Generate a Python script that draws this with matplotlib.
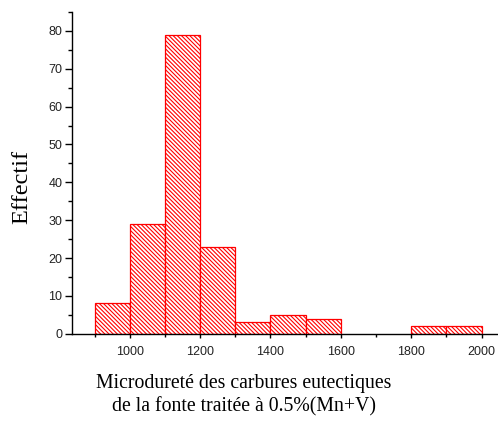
import matplotlib
matplotlib.use("Agg")
import matplotlib.pyplot as plt
from matplotlib.ticker import MultipleLocator

# Histogram of microhardness classes (left bin edges, bin width, counts)
bin_left = [900, 1000, 1100, 1200, 1300, 1400, 1500, 1800, 1900]
bin_width = 100
counts = [8, 29, 79, 23, 3, 5, 4, 2, 2]

x_ticks = [1000, 1200, 1400, 1600, 1800, 2000]
y_ticks = [0, 10, 20, 30, 40, 50, 60, 70, 80]

plt.rcParams['hatch.linewidth'] = 0.8
plt.rcParams['hatch.color'] = 'red'

fig = plt.figure(figsize=(4.98, 4.23), dpi=100)
ax = fig.add_axes([72 / 498, 1 - 333.7 / 423, (497 - 72) / 498, (333.7 - 12) / 423])

ax.bar(bin_left, counts, width=bin_width, align='edge', facecolor='white',
       edgecolor='red', linewidth=0.9, hatch='\\' * 8)

ax.set_xlim(836, 2044)
ax.set_ylim(0, 85)

for side in ('top', 'right'):
    ax.spines[side].set_visible(False)
for side in ('left', 'bottom'):
    ax.spines[side].set_linewidth(1.0)

ax.set_xticks(x_ticks)
ax.set_yticks(y_ticks)
ax.xaxis.set_minor_locator(MultipleLocator(100))
ax.yaxis.set_minor_locator(MultipleLocator(5))

tick_font = {'family': 'Liberation Sans', 'size': 9}
ax.set_xticklabels([str(v) for v in x_ticks], fontdict=tick_font, color='#222222')
ax.set_yticklabels([str(v) for v in y_ticks], fontdict=tick_font, color='#222222')
ax.tick_params(axis='y', which='major', direction='out', length=5, width=1.0, pad=2)
ax.tick_params(axis='y', which='minor', direction='out', length=3, width=1.0)
ax.tick_params(axis='x', which='major', direction='out', length=3, width=1.0, pad=6)
ax.tick_params(axis='x', which='minor', direction='out', length=2.5, width=1.0)

fig.text(22 / 498, 1 - 187 / 423, 'Effectif', rotation=90, ha='center', va='center',
         family='Liberation Serif', fontsize=17.5)
fig.text(244 / 498, 1 - 374 / 423,
         'Microdureté des carbures eutectiques\nde la fonte traitée à 0.5%(Mn+V)',
         ha='center', va='top', family='Liberation Serif', fontsize=14.2, linespacing=1.25)

fig.savefig('out.png', dpi=100)
